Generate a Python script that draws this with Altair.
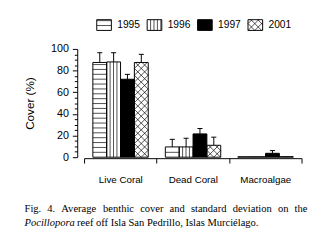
import altair as alt
import pandas as pd
import numpy as np

# ---------------- data ----------------
categories = ["Live Coral", "Dead Coral", "Macroalgae"]
years = ["1995", "1996", "1997", "2001"]
cover_1995 = [87.5, 9.5, 0.4]
cover_1996 = [88.0, 9.5, 0.4]
cover_1997 = [72.0, 21.5, 3.6]
cover_2001 = [87.5, 11.0, 0.5]
sd_1995 = [9.0, 7.0, 0.0]
sd_1996 = [8.5, 8.0, 0.0]
sd_1997 = [4.5, 5.0, 2.5]
sd_2001 = [7.5, 7.5, 0.0]
y_ticks = list(range(0, 101, 5))
y_title = "Cover (%)"
caption_line1 = "Fig. 4. Average benthic cover and standard deviation on the"
caption_species = "Pocillopora"
caption_rest = "reef off Isla San Pedrillo, Islas Murciélago."

covers = [cover_1995, cover_1996, cover_1997, cover_2001]
sds = [sd_1995, sd_1996, sd_1997, sd_2001]
patterns = ["h", "v", "solid", "x"]

# ---------------- layout ----------------
W, H = 223, 111
X_MAX, Y_MAX = 3, 100
PX_X = W / X_MAX
PX_Y = H / Y_MAX
ORIGIN_X, ORIGIN_Y = 86, 47 + H  # page pixel of (0, 0)
GAP = 9 / PX_X
BW = 14.2 / PX_X
CAP = 2.6 / PX_X
FONT = "Liberation Sans"
SERIF = "Liberation Serif"
CAP_SIZE = 10.8


def ux(px):
    return (px - ORIGIN_X) / PX_X


def uy(py):
    return (ORIGIN_Y - py) / PX_Y


def hatch(x0, x1, y0, y1, kind):
    w = (x1 - x0) * PX_X
    h = (y1 - y0) * PX_Y
    segs = []
    if kind == "h":
        t = 5.0
        while t < h - 0.8:
            segs.append((0, w, t, t))
            t += 5.0
    elif kind == "v":
        t = 3.5
        while t < w - 0.8:
            segs.append((t, t, 0, h))
            t += 3.5
    elif kind == "x":
        k = 7.0
        for b in np.arange(-np.ceil(w / k) * k, h + k, k):
            lo, hi = max(0.0, -b), min(w, h - b)
            if hi - lo > 0.3:
                segs.append((lo, hi, lo + b, hi + b))
        for b in np.arange(0, w + h + k, k):
            lo, hi = max(0.0, b - h), min(w, b)
            if hi - lo > 0.3:
                segs.append((lo, hi, b - lo, b - hi))
    return [(x0 + a / PX_X, x0 + c / PX_X, y0 + d / PX_Y, y0 + e / PX_Y)
            for a, c, d, e in segs]


bar_rows, hatch_rows, err_rows = [], [], []
for j, yr in enumerate(years):
    for i, cat in enumerate(categories):
        x0 = i + GAP + j * BW
        x1 = x0 + BW
        v = covers[j][i]
        s = sds[j][i]
        bar_rows.append(dict(year=yr, category=cat, x0=x0, x1=x1, y0=0.0, y1=v))
        for a, c, d, e in hatch(x0, x1, 0.0, v, patterns[j]):
            hatch_rows.append(dict(x=a, x2=c, y=d, y2=e))
        if s > 0:
            xm = (x0 + x1) / 2
            err_rows.append(dict(xm=xm, c0=xm - CAP, c1=xm + CAP, lo=v, hi=v + s))

# legend boxes (above the plot)
leg_rows, leg_text = [], []
for j, yr in enumerate(years):
    lx0 = ux(99 + j * 51.7)
    lx1 = lx0 + 15 / PX_X
    ly0 = uy(28)
    ly1 = uy(17)
    leg_rows.append(dict(year=yr, x0=lx0, x1=lx1, y0=ly0, y1=ly1))
    for a, c, d, e in hatch(lx0, lx1, ly0, ly1, patterns[j]):
        hatch_rows.append(dict(x=a, x2=c, y=d, y2=e))
    leg_text.append(dict(year=yr, x=lx0 + 21 / PX_X, y=(ly0 + ly1) / 2))

bars = pd.DataFrame(bar_rows + [dict(r, category="legend") for r in leg_rows])
hatches = pd.DataFrame(hatch_rows)
errs = pd.DataFrame(err_rows)
legtxt = pd.DataFrame(leg_text)

# caption: first line justified (Times advance widths, per 1000 em)
TIMES = {" ": 250, "F": 556, "i": 278, "g": 500, ".": 250, "4": 500, "A": 722,
         "v": 500, "e": 444, "r": 333, "a": 444, "b": 500, "n": 500, "t": 278,
         "h": 500, "c": 444, "o": 500, "s": 389, "d": 500, "l": 278, "p": 500,
         "P": 556}


def text_w(s):
    return sum(TIMES.get(ch, 500) for ch in s) * CAP_SIZE / 1000


words = caption_line1.split(" ")
line_left, line_right = 25, 315
gap = (line_right - line_left - sum(text_w(w) for w in words)) / (len(words) - 1)
cap_rows = []
px = line_left
for w in words:
    cap_rows.append(dict(t=w, x=ux(px), y=uy(214.5), style="normal"))
    px += text_w(w) + gap
cap_rows.append(dict(t=caption_species, x=ux(line_left), y=uy(229), style="italic"))
cap_rows.append(dict(t=caption_rest, x=ux(line_left + text_w(caption_species) + text_w(" ") + 1.3),
                     y=uy(229), style="normal"))
caps = pd.DataFrame(cap_rows)

xs = alt.Scale(domain=[0, X_MAX], nice=False, zero=False)
ys = alt.Scale(domain=[0, Y_MAX], nice=False, zero=False)
fills = alt.Scale(domain=years, range=["white", "white", "black", "white"])

label_expr = " : ".join(
    f"datum.value == {i + 0.5} ? '{c}'" for i, c in enumerate(categories)
) + " : ''"

x_axis = alt.Axis(
    values=[v / 2 for v in range(0, 2 * X_MAX + 1)],
    labelExpr=label_expr,
    tickOpacity={"condition": {"test": "datum.value % 1 != 0", "value": 0}, "value": 1},
    labelOverlap=False, labelFlush=False, grid=False, title=None,
    tickSize=5, labelPadding=12, labelFontSize=10, offset=1,
)
y_axis = alt.Axis(
    values=y_ticks,
    labelExpr="datum.value % 20 == 0 ? datum.label : ''",
    tickSize={"condition": {"test": "datum.value % 20 == 0", "value": 5}, "value": 3},
    labelOverlap=False, labelFlush=False, grid=False, title=y_title,
    labelFontSize=11, labelPadding=4, offset=7,
    titleFontSize=12, titleFontWeight="normal", titlePadding=14,
)


def X(field):
    return alt.X(field, type="quantitative", scale=xs, axis=x_axis)


def Y(field):
    return alt.Y(field, type="quantitative", scale=ys, axis=y_axis)


base_fill = alt.Chart(bars).mark_rect(strokeWidth=0).encode(
    x=X("x0"), x2="x1", y=Y("y0"), y2="y1",
    fill=alt.Fill("year:N", scale=fills, legend=None),
)

hatch_layer = alt.Chart(hatches).mark_rule(color="black", strokeWidth=0.7).encode(
    x=X("x"), x2="x2", y=Y("y"), y2="y2",
)

outline = alt.Chart(bars).mark_rect(fillOpacity=0, stroke="black", strokeWidth=1).encode(
    x=X("x0"), x2="x1", y=Y("y0"), y2="y1",
)

err_v = alt.Chart(errs).mark_rule(color="black", strokeWidth=1).encode(
    x=X("xm"), y=Y("lo"), y2="hi",
)
err_c = alt.Chart(errs).mark_rule(color="black", strokeWidth=1).encode(
    x=X("c0"), x2="c1", y=Y("hi"),
)

leg_labels = alt.Chart(legtxt).mark_text(
    align="left", baseline="middle", font=FONT, fontSize=10.5, color="black"
).encode(x=X("x"), y=Y("y"), text="year:N")

cap_normal = alt.Chart(caps).transform_filter("datum.style == 'normal'").mark_text(
    align="left", baseline="alphabetic", font=SERIF, fontSize=CAP_SIZE, color="black"
).encode(x=X("x"), y=Y("y"), text="t:N")
cap_italic = alt.Chart(caps).transform_filter("datum.style == 'italic'").mark_text(
    align="left", baseline="alphabetic", font=SERIF, fontSize=CAP_SIZE,
    fontStyle="italic", color="black"
).encode(x=X("x"), y=Y("y"), text="t:N")

chart = alt.layer(
    base_fill, hatch_layer, outline, err_v, err_c, leg_labels, cap_normal, cap_italic
).properties(
    width=W, height=H,
    autosize=alt.AutoSizeParams(type="none"),
    padding={"left": 78, "top": 39, "right": 22, "bottom": 85},
    background="white",
).configure_view(stroke=None).configure_axis(
    domainColor="black", tickColor="black", labelColor="black", titleColor="black",
    labelFont=FONT, titleFont=FONT, domainWidth=1, tickWidth=1,
)

chart.save("out.html", embed_options={"renderer": "svg", "actions": False})
